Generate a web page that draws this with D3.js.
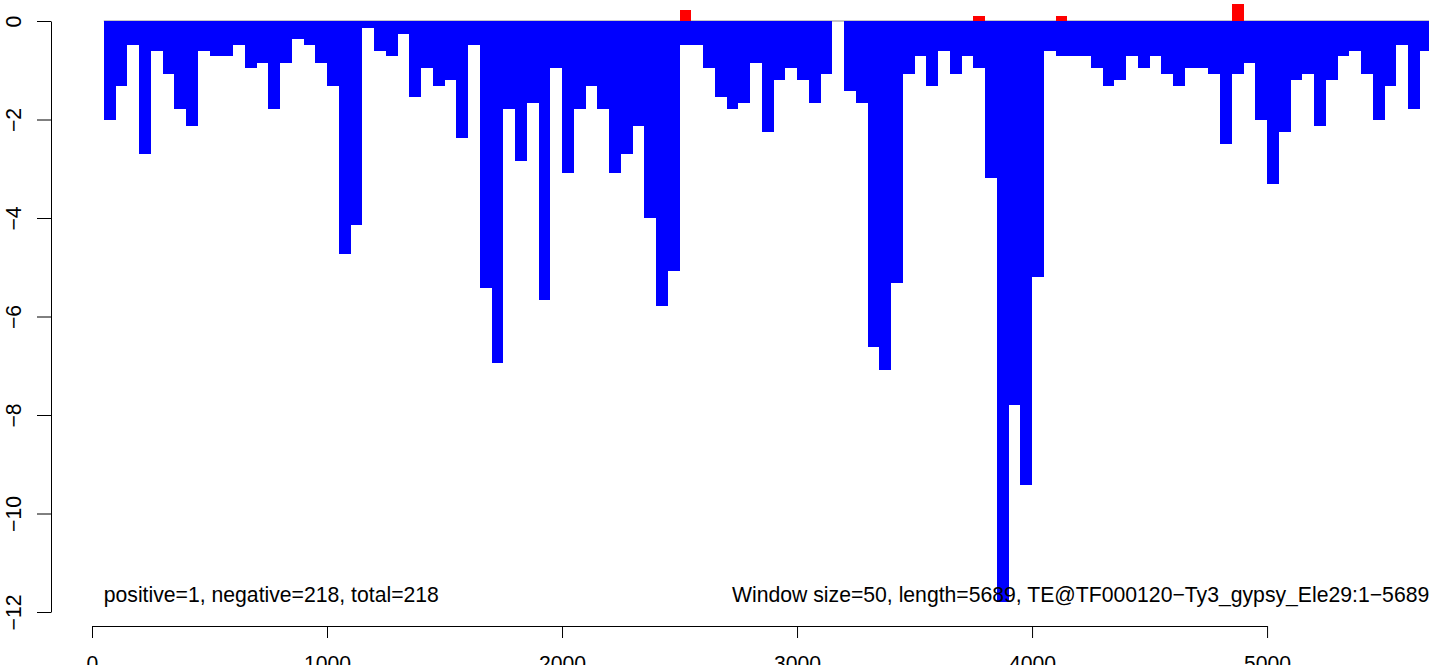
<!DOCTYPE html>
<html>
<head>
<meta charset="utf-8">
<script src="https://cdnjs.cloudflare.com/ajax/libs/d3/7.8.5/d3.min.js"></script>
<style>
  html, body { margin: 0; padding: 0; background: #fff; }
  svg { display: block; }
  text { font-family: "Liberation Sans", Arial, Helvetica, sans-serif; }
</style>
</head>
<body>
<svg id="chart" width="1429" height="665"></svg>
<script>
// ---- data ----
const windowSize = 50;
const seqLength = 5689;
const windowStarts = d3.range(50, 5700, windowSize); // 113 windows
const negValues = [
  -2.02, -1.31, -0.49, -2.71, -0.61, -1.07, -1.78, -2.13, -0.61, -0.72,
  -0.72, -0.49, -0.95, -0.85, -1.78, -0.85, -0.36, -0.49, -0.85, -1.31,
  -4.73, -4.14, -0.14, -0.61, -0.72, -0.26, -1.54, -0.95, -1.31, -1.20,
  -2.37, -0.49, -5.43, -6.95, -1.79, -2.84, -1.66, -5.66, -0.95, -3.08,
  -1.78, -1.31, -1.78, -3.08, -2.71, -2.13, -4.01, -5.78, -5.07, -0.49,
  -0.49, -0.95, -1.54, -1.78, -1.66, -0.85, -2.25, -1.20, -0.95, -1.20,
  -1.66, -1.07, 0, -1.43, -1.66, -6.61, -7.08, -5.31, -1.07, -0.72,
  -1.31, -0.61, -1.07, -0.72, -0.95, -3.18, -11.79, -7.80, -9.43, -5.19,
  -0.61, -0.72, -0.72, -0.72, -0.95, -1.31, -1.20, -0.72, -0.95, -0.72,
  -1.07, -1.31, -0.95, -0.95, -1.07, -2.49, -1.07, -0.85, -2.02, -3.30,
  -2.25, -1.20, -1.07, -2.13, -1.20, -0.72, -0.61, -1.07, -2.02, -1.31,
  -0.49, -1.78, -0.61
];
const posStarts = [2500, 3750, 4100, 4850];
const posValues = [0.22, 0.10, 0.10, 0.35];
const xTicks = [0, 1000, 2000, 3000, 4000, 5000];
const yTicks = [0, -2, -4, -6, -8, -10, -12];
const leftNote = "positive=1, negative=218, total=218";
const rightNote = "Window size=50, length=5689, TE@TF000120\u2212Ty3_gypsy_Ele29:1\u22125689";

// ---- drawing ----
const svg = d3.select("#chart");
const x = d3.scaleLinear().domain([0, seqLength]).range([92, 1429]);
const y = d3.scaleLinear().domain([0, -12]).range([21, 612]);

const negData = windowStarts.map((s, i) => ({ s, v: negValues[i] })).filter(d => d.v !== undefined);
const posData = posStarts.map((s, i) => ({ s, v: posValues[i] }));

// zero line
svg.append("line")
  .attr("x1", x(windowStarts[0])).attr("x2", x(seqLength))
  .attr("y1", y(0)).attr("y2", y(0))
  .attr("stroke", "#8c8c8c").attr("stroke-width", 1);

svg.append("g").attr("shape-rendering", "crispEdges")
  .selectAll("rect").data(negData).join("rect")
  .attr("x", d => x(d.s))
  .attr("width", d => x(d.s + windowSize) - x(d.s))
  .attr("y", y(0))
  .attr("height", d => y(d.v) - y(0))
  .attr("fill", "#0000ff");

svg.append("g").attr("shape-rendering", "crispEdges")
  .selectAll("rect").data(posData).join("rect")
  .attr("x", d => x(d.s))
  .attr("width", d => x(d.s + windowSize) - x(d.s))
  .attr("y", d => y(d.v))
  .attr("height", d => y(0) - y(d.v))
  .attr("fill", "#ff0000");

const fs = "21.2px";
const fmt = d => d < 0 ? "\u2212" + Math.abs(d) : String(d);

// x axis
const xAxis = d3.axisBottom(x).tickValues(xTicks).tickSize(12).tickSizeOuter(0).tickPadding(18).tickFormat(fmt);
const gx = svg.append("g").attr("transform", "translate(0,626)").call(xAxis);
gx.select(".domain").remove();
gx.append("line").attr("x1", x(xTicks[0])).attr("x2", x(xTicks[xTicks.length - 1]))
  .attr("y1", 0.5).attr("y2", 0.5).attr("stroke", "#000");
gx.selectAll(".tick line").attr("stroke", "#000");
gx.selectAll(".tick text").attr("font-size", fs).attr("fill", "#000")
  .attr("font-family", "Liberation Sans, Arial, sans-serif");

// y axis
const yAxis = d3.axisLeft(y).tickValues(yTicks).tickSize(14).tickSizeOuter(0).tickFormat(fmt);
const gy = svg.append("g").attr("transform", "translate(51,0)").call(yAxis);
gy.select(".domain").attr("stroke", "#000");
gy.selectAll(".tick line").attr("stroke", "#000");
gy.selectAll(".tick text")
  .attr("font-size", fs).attr("fill", "#000")
  .attr("font-family", "Liberation Sans, Arial, sans-serif")
  .attr("x", null).attr("dy", null)
  .attr("text-anchor", "middle")
  .attr("transform", "translate(-30.5,0) rotate(-90)");

// notes
svg.append("text").attr("x", x(windowStarts[0])).attr("y", 602)
  .attr("font-size", fs).attr("fill", "#000").text(leftNote);
svg.append("text").attr("x", 732).attr("y", 602)
  .attr("font-size", fs).attr("fill", "#000").text(rightNote);
</script>
</body>
</html>
